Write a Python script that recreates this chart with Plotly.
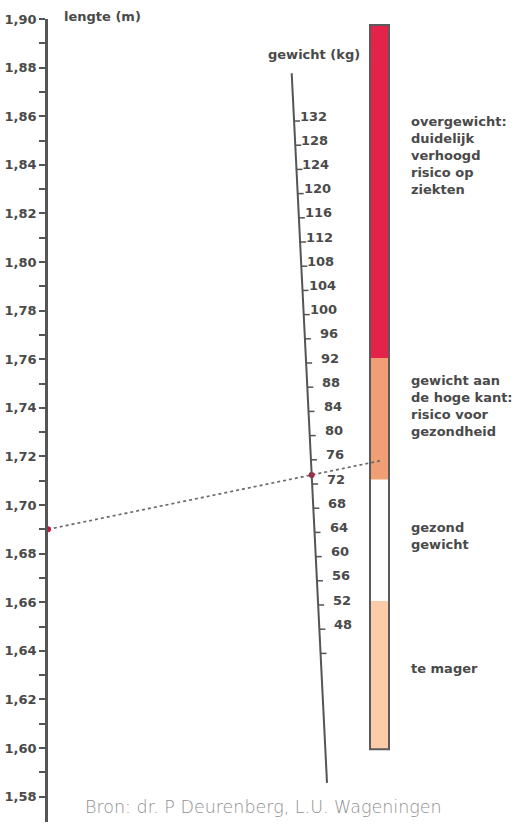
import numpy as np
import plotly.graph_objects as go

# ---------------- data ----------------
height_ticks = [1.58, 1.60, 1.62, 1.64, 1.66, 1.68, 1.70, 1.72, 1.74, 1.76,
                1.78, 1.80, 1.82, 1.84, 1.86, 1.88, 1.90]
height_minor = [1.59, 1.61, 1.63, 1.65, 1.67, 1.69, 1.71, 1.73, 1.75, 1.77,
                1.79, 1.81, 1.83, 1.85, 1.87, 1.89]
height_labels = ["1,58", "1,60", "1,62", "1,64", "1,66", "1,68", "1,70", "1,72", "1,74",
                 "1,76", "1,78", "1,80", "1,82", "1,84", "1,86", "1,88", "1,90"]

weight_ticks = [44, 48, 52, 56, 60, 64, 68, 72, 76, 80, 84, 88, 92, 96, 100,
                104, 108, 112, 116, 120, 124, 128, 132]
weight_labels = ["", "48", "52", "56", "60", "64", "68", "72", "76", "80", "84", "88",
                 "92", "96", "100", "104", "108", "112", "116", "120", "124", "128", "132"]
weight_line_span = [22.6, 139.9]          # kg, extent of the slanted weight scale

bmi_bounds = [13.9, 20, 25, 30, 43.7]     # category boundaries of the colour bar
bmi_colors = ["#FCCBA8", "#FFFFFF", "#EF9F73", "#E4234B"]
bmi_text = [
    ["te mager"],
    ["gezond", "gewicht"],
    ["gewicht aan", "de hoge kant:", "risico voor", "gezondheid"],
    ["overgewicht:", "duidelijk", "verhoogd", "risico op", "ziekten"],
]
bmi_text_center = [668, 535.5, 406, 155.5]   # vertical pixel centre of each block

example_height = 1.69
example_weight = 73.5

# ---------------- geometry / scales ----------------
W, H = 521, 826
MT, MB, ML = 19, 4, 48
PH = H - MT - MB

h_range = [1.90 - (PH / 48.6) * 0.02, 1.90]
w_range = [132 - (822 - 121) / 6.05, 132 + (121 - 19) / 6.05]
b_range = [25 - (822 - 479.5) / 24.3, 25 + (479.5 - 19) / 24.3]


def to_px(v, rng):
    return MT + (rng[1] - v) / (rng[1] - rng[0]) * PH


def px_to_h(px):
    return h_range[1] - (px - MT) / PH * (h_range[1] - h_range[0])


def paper_y(px):
    return 1 - (px - MT) / PH


X_TOP, X_BOT = 291.7, 327.0


def weight_x(w):
    lo, hi = weight_line_span
    return X_TOP + (hi - w) / (hi - lo) * (X_BOT - X_TOP)


AXIS_COL = "#555555"
TXT_COL = "#4a4a4a"
FONT = "DejaVu Sans"
BOLD = dict(family=FONT, size=13, color=TXT_COL, weight="bold")

fig = go.Figure()

# weight scale line
fig.add_trace(go.Scatter(
    x=[weight_x(w) for w in weight_line_span], y=weight_line_span, yaxis="y2",
    mode="lines", line=dict(color=AXIS_COL, width=2), hoverinfo="skip", showlegend=False))

# weight ticks
tx, ty = [], []
for w in weight_ticks:
    tx += [weight_x(w), weight_x(w) + 6, None]
    ty += [w, w, None]
fig.add_trace(go.Scatter(x=tx, y=ty, yaxis="y2", mode="lines",
                         line=dict(color=AXIS_COL, width=1.5),
                         hoverinfo="skip", showlegend=False))

# weight tick labels
for w, lab in zip(weight_ticks, weight_labels):
    if lab:
        fig.add_annotation(x=weight_x(w) + 35, y=w, xref="x", yref="y2", text=lab,
                           showarrow=False, xanchor="right", yanchor="middle", yshift=5,
                           font=BOLD)

# colour bar segments
BX0, BX1 = 370, 389
for lo, hi, col in zip(bmi_bounds[:-1], bmi_bounds[1:], bmi_colors):
    fig.add_shape(type="rect", xref="x", yref="y3", x0=BX0, x1=BX1, y0=lo, y1=hi,
                  fillcolor=col, line=dict(width=0), layer="below")
fig.add_shape(type="rect", xref="x", yref="y3", x0=BX0, x1=BX1,
              y0=bmi_bounds[0], y1=bmi_bounds[-1],
              fillcolor="rgba(0,0,0,0)", line=dict(color="#5a5a5a", width=2))

# example line: height point -> weight point, extended to the bar
p_w = px_to_h(to_px(example_weight, w_range))
x0, y0 = ML, example_height
x1, y1 = weight_x(example_weight), p_w
x_end = 383
y_end = y0 + (y1 - y0) * (x_end - x0) / (x1 - x0)
fig.add_trace(go.Scatter(x=[x0, x1, x_end], y=[y0, y1, y_end], mode="lines",
                         line=dict(color="#6a6a6a", width=1.7, dash="dot"),
                         hoverinfo="skip", showlegend=False))
fig.add_trace(go.Scatter(x=[x0, x1], y=[y0, y1], mode="markers",
                         marker=dict(color="#C8163F", size=6),
                         hoverinfo="skip", showlegend=False, cliponaxis=False))

# category texts (one multi-line block each)
for lines, cy in zip(bmi_text, bmi_text_center):
    fig.add_annotation(x=409, y=paper_y(cy), xref="x", yref="paper",
                       text="<br>".join(lines), align="left",
                       showarrow=False, xanchor="left", yanchor="middle",
                       font=dict(family=FONT, size=13, color=TXT_COL, weight="bold"))

# titles and source
fig.add_annotation(x=62, y=paper_y(17), xref="x", yref="paper", text="lengte (m)",
                   showarrow=False, xanchor="left", yanchor="middle", font=BOLD)
fig.add_annotation(x=266, y=paper_y(55), xref="x", yref="paper", text="gewicht (kg)",
                   showarrow=False, xanchor="left", yanchor="middle", font=BOLD)
fig.add_annotation(x=263, y=paper_y(807), xref="x", yref="paper",
                   text="Bron: dr. P Deurenberg, L.U. Wageningen",
                   showarrow=False, xanchor="center", yanchor="middle",
                   font=dict(family=FONT, size=17.5, color="#8f8f8f", weight=300))

fig.update_layout(
    width=W, height=H,
    margin=dict(l=ML, r=0, t=MT, b=MB),
    paper_bgcolor="white", plot_bgcolor="white",
    showlegend=False,
    xaxis=dict(range=[ML, W], visible=False, fixedrange=True),
    yaxis=dict(range=h_range, tickmode="array", tickvals=height_ticks,
               ticktext=height_labels, ticks="outside", ticklen=6, tickwidth=2,
               tickcolor=AXIS_COL, showline=True, linecolor=AXIS_COL, linewidth=2.5,
               showgrid=False, zeroline=False, tickfont=BOLD,
               minor=dict(tickmode="array", tickvals=height_minor, ticks="outside",
                          ticklen=6, tickwidth=2, tickcolor=AXIS_COL, showgrid=False)),
    yaxis2=dict(range=w_range, overlaying="y", visible=False),
    yaxis3=dict(range=b_range, overlaying="y", visible=False),
)

fig.write_html("out.html", config={"displayModeBar": False},
               post_script="document.body.style.margin='0';document.body.style.overflow='hidden';")
